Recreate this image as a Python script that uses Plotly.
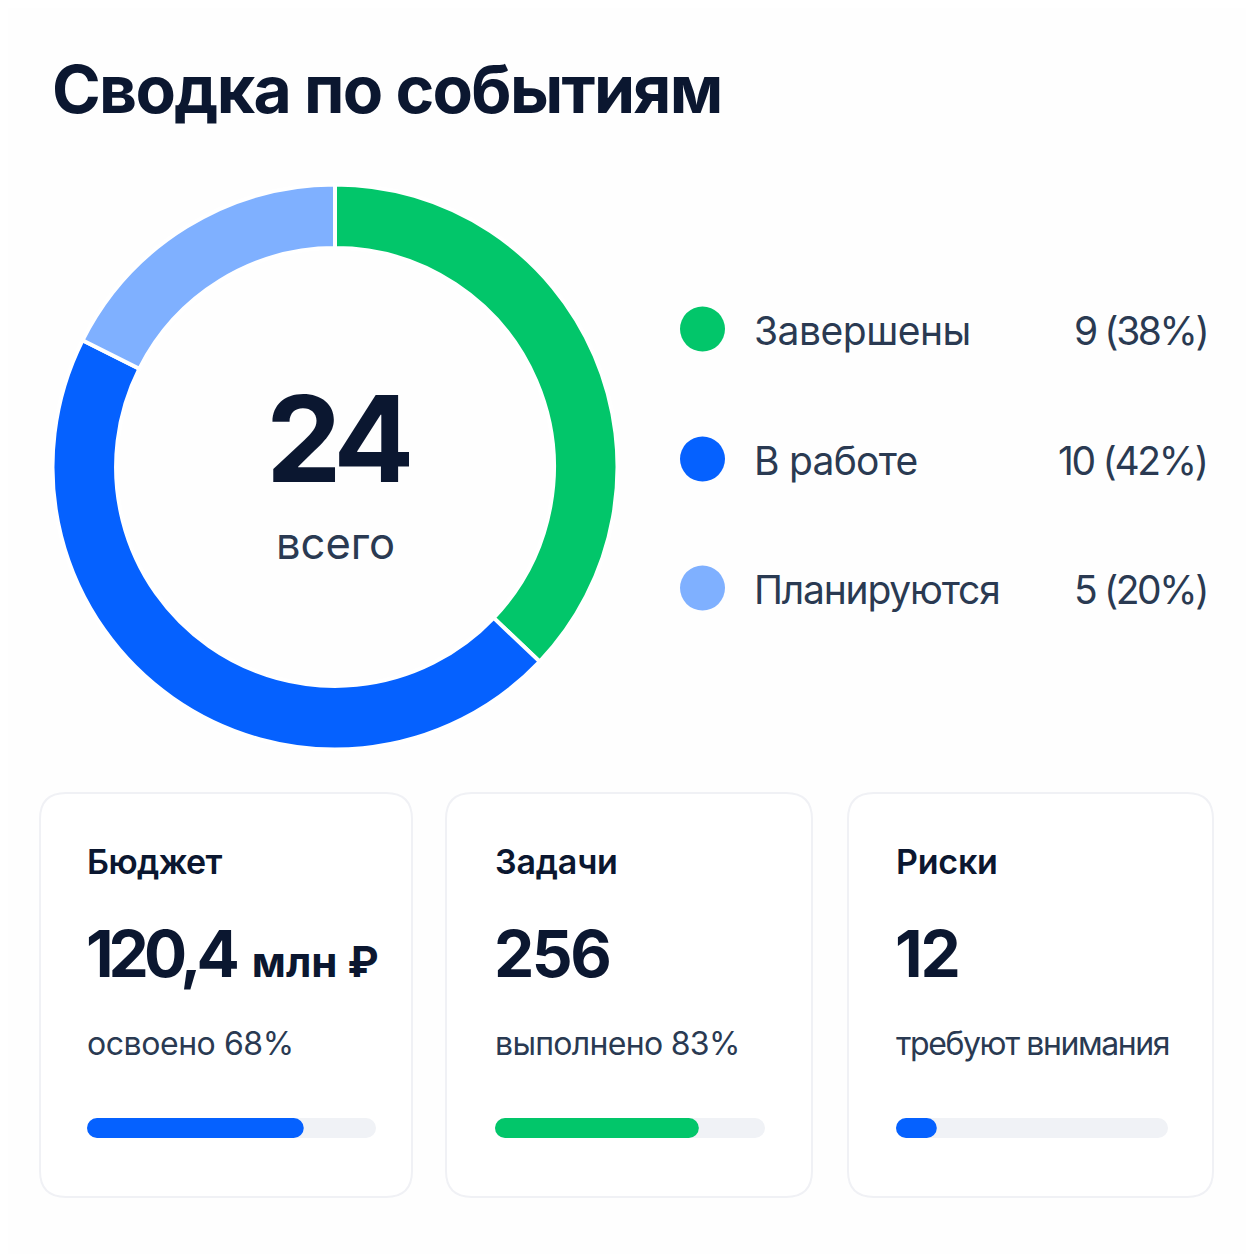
import plotly.graph_objects as go

W = H = 1246   # the page body adds an 8px margin
OFFSET = 8

title = "Сводка по событиям"
center_value = "24"
center_label = "всего"
categories = ["Завершены", "В работе", "Планируются"]
counts = ["9 (38%)", "10 (42%)", "5 (20%)"]
arc_shares = [37.1, 45.3, 17.6]
colors = ["#02C66A", "#0561FF", "#7FB0FF"]

card_titles = ["Бюджет", "Задачи", "Риски"]
card_values = ["120,4", "256", "12"]
card_units = ["млн ₽", "", ""]
card_notes = ["освоено 68%", "выполнено 83%", "требуют внимания"]
bar_values = [75, 75.5, 15]
bar_colors = ["#0561FF", "#02C66A", "#0561FF"]

cat_spacing = [-0.5, -0.75, -1.2]
count_spacing = [-2.4, -2.3, -2.4]
title_spacing = [-0.6, -0.2, -0.2]
value_spacing = [-5, -2.5, -2]
note_spacing = [-0.45, -0.7, -1.4]

DARK = "#0B1730"
TEXT = "#2A3A52"
FONT = "Inter"

def px(x): return (x - OFFSET) / W
def py(y): return 1 - (y - OFFSET) / H

def spaced(s, sp, size=None):
    fs = f"font-size:{size}px;" if size else ""
    return f"<span style='{fs}letter-spacing:{sp}px'>{s}</span>"

fig = go.Figure()
fig.add_trace(go.Pie(values=arc_shares, labels=categories, sort=False, direction="clockwise",
                     rotation=0, hole=0.775, textinfo="none", hoverinfo="label",
                     marker=dict(colors=colors, line=dict(color="white", width=4)),
                     domain=dict(x=[px(52.5), px(617.5)], y=[py(749.5), py(184.5)]),
                     showlegend=False))

layout = dict(width=W, height=H, autosize=False, margin=dict(l=0, r=0, t=0, b=0),
              paper_bgcolor="#FEFEFE", plot_bgcolor="rgba(0,0,0,0)", showlegend=False,
              font=dict(family=FONT, color=DARK), barmode="overlay")
shapes, ann = [], []

def text(x, y, s, size, color=DARK, anchor="left", weight=400):
    ann.append(dict(x=px(x), y=py(y), xref="paper", yref="paper", text=s, showarrow=False,
                    xanchor=anchor, yanchor="middle", borderpad=0, borderwidth=0,
                    font=dict(size=size, color=color, family=FONT, weight=weight)))

text(52, 89, spaced(title, -1.7), 66, DARK, weight=700)
text(337, 438, spaced(center_value, -6.5), 120, DARK, "center", 700)
text(335.5, 543, center_label, 43.5, TEXT, "center")

for y, c, cat, cnt, s1, s2 in zip([329, 459, 588], colors, categories, counts, cat_spacing, count_spacing):
    shapes.append(dict(type="circle", xref="paper", yref="paper", x0=px(680), x1=px(725),
                       y0=py(y + 22.5), y1=py(y - 22.5), fillcolor=c, line_width=0))
    text(754, y + 1.5, spaced(cat, s1), 39, TEXT)
    text(1207, y + 1.5, spaced(cnt, s2), 39, TEXT, "right")

def rrect(x0, y0, x1, y1, r):
    return (f"M {px(x0+r)} {py(y0)} L {px(x1-r)} {py(y0)} Q {px(x1)} {py(y0)} {px(x1)} {py(y0+r)} "
            f"L {px(x1)} {py(y1-r)} Q {px(x1)} {py(y1)} {px(x1-r)} {py(y1)} L {px(x0+r)} {py(y1)} "
            f"Q {px(x0)} {py(y1)} {px(x0)} {py(y1-r)} L {px(x0)} {py(y0+r)} Q {px(x0)} {py(y0)} {px(x0+r)} {py(y0)} Z")

cards = [(40, 412), (446, 812), (848, 1213)]
tracks = [(87, 376), (495, 765), (896, 1168)]

def pill(v, color, xa, ya, hover):
    # an explicit base makes plotly round both ends of the bar
    fig.add_trace(go.Bar(x=[v], base=[0], y=[0], orientation="h", width=1,
                         xaxis=xa, yaxis=ya, hoverinfo=hover,
                         marker=dict(color=color, cornerradius=10, line_width=0)))

for i, ((x0, x1), (t0, t1)) in enumerate(zip(cards, tracks)):
    shapes.append(dict(type="path", xref="paper", yref="paper", layer="below",
                       path=rrect(x0, 793, x1, 1197, 26), fillcolor="#FFFFFF",
                       line=dict(color="#F0F1F5", width=2)))
    text(t0, 861, spaced(card_titles[i], title_spacing[i]), 34, DARK, weight=600)
    val = spaced(card_values[i], value_spacing[i])
    if card_units[i]:
        val += spaced("\u2002", -4, 42) + spaced(card_units[i], 0, 42)
    text(t0 - 1, 953, val, 64, DARK, weight=700)
    text(t0, 1043, spaced(card_notes[i], note_spacing[i]), 32, TEXT)
    ax = "" if i == 0 else str(i + 1)
    layout[f"xaxis{ax}"] = dict(domain=[px(t0), px(t1)], range=[0, 100], visible=False, fixedrange=True)
    layout[f"yaxis{ax}"] = dict(domain=[py(1138), py(1118)], range=[-0.5, 0.5], visible=False, fixedrange=True)
    pill(100, "#F0F2F6", f"x{ax}", f"y{ax}", "skip")
    pill(bar_values[i], bar_colors[i], f"x{ax}", f"y{ax}", "x")

fig.update_layout(**layout, shapes=shapes, annotations=ann)
fig.write_html("out.html", config=dict(displayModeBar=False))
